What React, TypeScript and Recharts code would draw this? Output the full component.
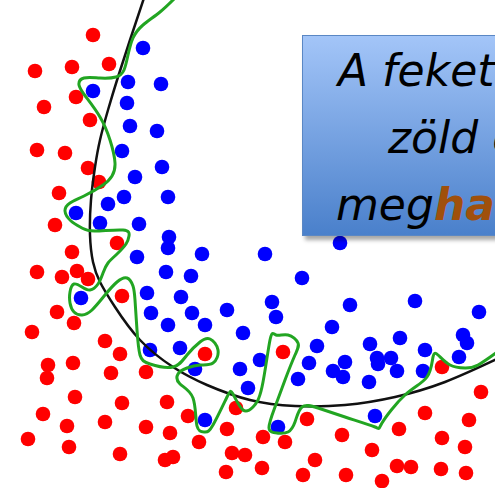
import React from "react";
import { ScatterChart, Scatter, XAxis, YAxis } from "recharts";

// class A points (red)
const redPoints = [
  [93, 35], [35, 71], [72, 67], [109, 64], [76, 97], [44, 107], [90, 120],
  [37, 150], [65, 153], [88, 168], [99, 182], [59, 193], [55, 225], [117, 243],
  [72, 252], [37, 272], [62, 277], [77, 271], [88, 279], [122, 296], [57, 312],
  [74, 323], [32, 332], [105, 341], [120, 354], [205, 354], [48, 365], [47, 378],
  [73, 363], [111, 373], [146, 372], [75, 397], [122, 403], [167, 402], [43, 414],
  [67, 426], [105, 422], [146, 427], [170, 433], [188, 416], [236, 408], [227, 429],
  [28, 439], [69, 447], [120, 454], [199, 442], [173, 457], [165, 460], [232, 453],
  [245, 455], [226, 472], [283, 352], [442, 367], [481, 392], [307, 419], [425, 413],
  [469, 420], [263, 437], [285, 442], [342, 435], [399, 429], [442, 438], [465, 447],
  [315, 460], [372, 450], [262, 468], [303, 475], [346, 475], [382, 481], [397, 466],
  [411, 467], [441, 469], [466, 473],
];

// class B points (blue)
const bluePoints = [
  [143, 48], [128, 82], [161, 84], [93, 91], [127, 103], [130, 126], [157, 131],
  [122, 151], [162, 167], [135, 177], [124, 197], [168, 197], [108, 204], [76, 213],
  [100, 223], [139, 224], [169, 237], [168, 248], [202, 254], [265, 254], [137, 257],
  [166, 272], [191, 276], [81, 298], [147, 293], [181, 297], [151, 313], [192, 313],
  [227, 310], [168, 325], [205, 325], [243, 333], [150, 350], [180, 348], [195, 369],
  [240, 369], [248, 388], [205, 420], [340, 243], [302, 278], [272, 302], [276, 317],
  [350, 305], [415, 301], [479, 312], [332, 327], [317, 346], [370, 344], [400, 338],
  [425, 350], [463, 335], [467, 343], [459, 357], [260, 360], [309, 363], [345, 362],
  [333, 371], [343, 377], [377, 358], [378, 364], [391, 358], [397, 371], [423, 371],
  [369, 382], [298, 379], [375, 416], [278, 427],
];

// smooth decision boundary (black)
const smoothBoundary = [
  [144, -2], [130, 40], [118, 77], [108, 110], [100, 140], [95, 167], [91, 200],
  [90, 235], [93, 262], [100, 282], [115, 307], [140, 340], [173, 367], [207, 385],
  [250, 400], [295, 406], [345, 405], [395, 397], [445, 382], [497, 359],
];

// overfitted boundary (green)
const overfitBoundary = [
  [176, -3], [160, 12], [143, 25], [133, 38], [128, 55], [124, 70], [116, 77],
  [100, 78], [84, 78], [79, 85], [86, 97], [100, 117], [110, 140], [115, 163],
  [112, 176], [103, 185], [84, 196], [70, 203], [65, 211], [71, 221], [82, 228],
  [95, 231], [123, 230], [129, 236], [126, 244], [117, 254], [108, 263], [103, 273],
  [98, 284], [90, 290], [82, 287], [74, 284], [70, 292], [70, 303], [74, 312],
  [82, 315], [92, 310], [105, 295], [117, 282], [127, 278], [133, 286], [135, 300],
  [137, 330], [140, 355], [150, 364], [173, 367], [187, 355], [200, 342], [210, 339],
  [218, 350], [213, 363], [200, 365], [187, 368], [178, 374], [180, 384], [193, 398],
  [197, 426], [205, 432], [213, 425], [227, 397], [233, 394], [243, 410], [253, 407],
  [262, 387], [270, 340], [276, 335], [288, 335], [298, 343], [295, 355], [285, 380],
  [275, 407], [269, 428], [277, 433], [288, 432], [295, 422], [302, 407], [318, 408],
  [345, 417], [375, 427], [382, 423], [405, 395], [427, 377], [433, 357], [438, 355],
  [450, 365], [465, 368], [478, 365], [500, 350],
];

const toXY = (pts: number[][]) => pts.map(([x, y]) => ({ x, y }));

const W = 495;
const H = 488;

const Dot = (color: string) => (props: any) =>
  props.cx == null ? <g /> : <circle cx={props.cx} cy={props.cy} r={7.3} fill={color} />;

const Nothing = () => <g />;

export default function App() {
  return (
    <div
      style={{
        position: "absolute",
        left: 0,
        top: 0,
        width: W,
        height: H,
        overflow: "hidden",
        background: "#fff",
      }}>
      <ScatterChart width={W} height={H} margin={{ top: 0, right: 0, bottom: 0, left: 0 }}>
        <XAxis type="number" dataKey="x" domain={[0, W]} allowDataOverflow hide />
        <YAxis type="number" dataKey="y" domain={[0, H]} allowDataOverflow reversed hide />
        <Scatter data={toXY(redPoints)} shape={Dot("#ff0000")} isAnimationActive={false} />
        <Scatter data={toXY(bluePoints)} shape={Dot("#0000ff")} isAnimationActive={false} />
        <Scatter
          data={toXY(smoothBoundary)}
          shape={Nothing}
          line={{ stroke: "#111", strokeWidth: 2.5, fill: "none" }}
          lineJointType="natural"
          isAnimationActive={false}
        />
        <Scatter
          data={toXY(overfitBoundary)}
          shape={Nothing}
          line={{ stroke: "#22a522", strokeWidth: 3, fill: "none" }}
          lineJointType="natural"
          isAnimationActive={false}
        />
      </ScatterChart>
      <div
        style={{
          position: "absolute",
          left: 302,
          top: 35,
          width: 230,
          height: 201,
          boxSizing: "border-box",
          border: "1.5px solid #5a87c4",
          background: "linear-gradient(to bottom, #a3c5f8, #4a80cb)",
          boxShadow: "3px 4px 4px rgba(0,0,0,0.35)",
        }}>
        <svg width={230} height={201} style={{ position: "absolute", left: -1.5, top: -1.5 }}>
          <g fontFamily="'DejaVu Sans', sans-serif" fontStyle="italic" fontSize={44}>
            <text x={36} y={51} fill="#000">A fekete</text>
            <text x={86} y={118} fill="#000">zöld e</text>
            <text x={34} y={185} fill="#000">
              meg<tspan fill="#a0500c" fontWeight="bold">ha</tspan>
            </text>
          </g>
        </svg>
      </div>
    </div>
  );
}
